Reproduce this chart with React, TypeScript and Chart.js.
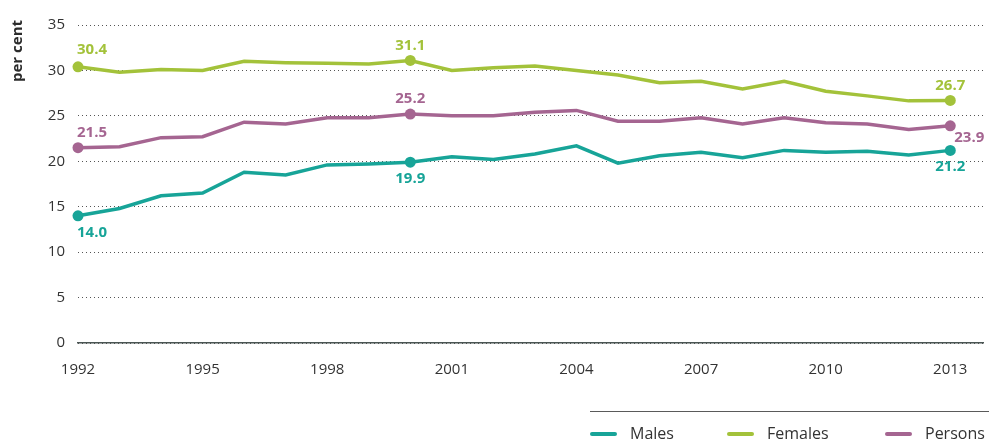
import React, { useEffect, useRef } from "react";
import { Chart, registerables } from "chart.js";

Chart.register(...registerables);

const years = [1992, 1993, 1994, 1995, 1996, 1997, 1998, 1999, 2000, 2001, 2002, 2003, 2004, 2005, 2006, 2007, 2008, 2009, 2010, 2011, 2012, 2013];
const males = [14.0, 14.8, 16.2, 16.5, 18.8, 18.5, 19.6, 19.7, 19.9, 20.5, 20.2, 20.8, 21.7, 19.8, 20.6, 21.0, 20.4, 21.2, 21.0, 21.1, 20.7, 21.2];
const females = [30.4, 29.8, 30.1, 30.0, 31.0, 30.85, 30.8, 30.7, 31.1, 30.0, 30.3, 30.5, 30.0, 29.5, 28.65, 28.8, 27.95, 28.8, 27.7, 27.2, 26.65, 26.7];
const persons = [21.5, 21.6, 22.6, 22.7, 24.3, 24.1, 24.8, 24.8, 25.2, 25.0, 25.0, 25.4, 25.6, 24.4, 24.4, 24.8, 24.1, 24.8, 24.25, 24.1, 23.5, 23.9];
const seriesNames = ["Males", "Females", "Persons"];
const xTicks = [1992, 1995, 1998, 2001, 2004, 2007, 2010, 2013];
const yTicks = [0, 5, 10, 15, 20, 25, 30, 35];
const labelledIdx = [0, 8, 21];

const COLORS = ["#17a498", "#a3c23a", "#a56591"];
const FONT = "'Open Sans', sans-serif";

const labelPlacement: Record<number, Array<[number, number, CanvasTextAlign]>> = {
  0: [[-1, 17, "left"], [0, 17, "center"], [0, 16, "center"]],
  1: [[-1, -17, "left"], [0, -15, "center"], [0, -15, "center"]],
  2: [[-1, -15, "left"], [0, -15, "center"], [4, 12, "left"]],
};

const decoPlugin = {
  id: "deco",
  afterDatasetsDraw(chart: any) {
    const ctx = chart.ctx;
    ctx.save();
    ctx.font = `bold 15px ${FONT}`;
    ctx.textBaseline = "middle";
    chart.data.datasets.forEach((ds: any, di: number) => {
      const meta = chart.getDatasetMeta(di);
      labelledIdx.forEach((idx, k) => {
        const el = meta.data[idx];
        const [dx, dy, align] = labelPlacement[di][k];
        ctx.fillStyle = COLORS[di];
        ctx.textAlign = align;
        ctx.fillText(ds.data[idx].y.toFixed(1), el.x + dx, el.y + dy);
      });
    });
    ctx.restore();
  },
  afterDraw(chart: any) {
    const ctx = chart.ctx;
    ctx.save();
    ctx.translate(18, 51);
    ctx.rotate(-Math.PI / 2);
    ctx.font = `bold 15px ${FONT}`;
    ctx.fillStyle = "#2b2b2b";
    ctx.textAlign = "center";
    ctx.textBaseline = "middle";
    ctx.fillText("per cent", 0, 0);
    ctx.restore();

    ctx.save();
    ctx.strokeStyle = "#5a5a5a";
    ctx.lineWidth = 1;
    ctx.beginPath();
    ctx.moveTo(590, 411.5);
    ctx.lineTo(989, 411.5);
    ctx.stroke();
    const xs = [590, 727, 885];
    ctx.font = `16px ${FONT}`;
    ctx.textBaseline = "middle";
    ctx.textAlign = "left";
    seriesNames.forEach((name, i) => {
      ctx.strokeStyle = COLORS[i];
      ctx.lineWidth = 4;
      ctx.lineCap = "round";
      ctx.beginPath();
      ctx.moveTo(xs[i] + 2, 434);
      ctx.lineTo(xs[i] + 25, 434);
      ctx.stroke();
      ctx.fillStyle = "#333";
      ctx.fillText(name, xs[i] + 40, 434);
    });
    ctx.restore();
  },
};

export default function App() {
  const ref = useRef<HTMLCanvasElement>(null);
  useEffect(() => {
    if (!ref.current) return;
    const seriesData = [males, females, persons];
    const chart = new Chart(ref.current, {
      type: "line",
      data: {
        datasets: seriesData.map((vals, i) => ({
          label: seriesNames[i],
          data: years.map((x, j) => ({ x, y: vals[j] })),
          borderColor: COLORS[i],
          backgroundColor: COLORS[i],
          borderWidth: 3.5,
          tension: 0,
          clip: false,
          pointRadius: years.map((_, j) => (labelledIdx.includes(j) ? 5.5 : 0)),
          pointBorderWidth: 0,
        })),
      },
      options: {
        animation: false,
        responsive: false,
        layout: { padding: { left: 0, right: 0, top: 25, bottom: 58 } },
        plugins: { legend: { display: false }, tooltip: { enabled: false } },
        scales: {
          x: {
            type: "linear",
            min: 1992,
            max: 2013.8,
            afterBuildTicks: (s: any) => {
              s.ticks = xTicks.map((v) => ({ value: v }));
            },
            afterFit: (s: any) => {
              s.height = 40;
            },
            ticks: {
              autoSkip: false,
              maxRotation: 0,
              padding: 18,
              color: "#333",
              font: { family: FONT, size: 15 },
              callback: (v: any) => String(v),
            },
            grid: { display: false, drawTicks: false },
            border: { display: true, color: "#4a5553", width: 1.5 },
          },
          y: {
            min: 0,
            max: 35,
            afterBuildTicks: (s: any) => {
              s.ticks = yTicks.map((v) => ({ value: v }));
            },
            afterFit: (s: any) => {
              s.width = 78;
            },
            ticks: {
              padding: 13,
              color: "#333",
              font: { family: FONT, size: 15 },
            },
            grid: { color: "#555", lineWidth: 1, drawTicks: false },
            border: { display: false, dash: [1, 3] },
          },
        },
      },
      plugins: [decoPlugin],
    });
    return () => chart.destroy();
  }, []);
  return (
    <div style={{ position: "fixed", left: 0, top: 0, width: 989, height: 441, background: "#fff" }}>
      <canvas ref={ref} width={989} height={441} />
    </div>
  );
}
